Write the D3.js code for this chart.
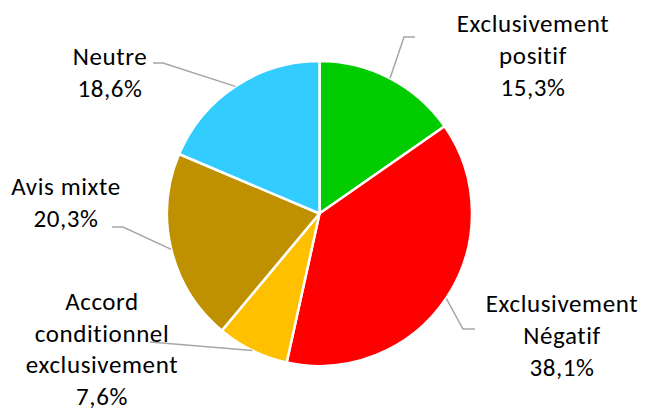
<!DOCTYPE html>
<html>
<head>
<meta charset="utf-8">
<script src="https://cdn.jsdelivr.net/npm/d3@7"></script>
<style>
  html, body { margin: 0; padding: 0; background: #fff; }
  svg { display: block; }
  text { font-family: Carlito, Calibri, Lato, "Open Sans", sans-serif; fill: #000; }
</style>
</head>
<body>
<svg id="chart" width="647" height="412"></svg>
<script>
// Opinion categories, clockwise from 12 o'clock
const categories = [
  "Exclusivement positif",
  "Exclusivement Négatif",
  "Accord conditionnel exclusivement",
  "Avis mixte",
  "Neutre"
];
const values = [15.3, 38.1, 7.6, 20.3, 18.6];
const labelLines = [
  ["Exclusivement", "positif", "15,3%"],
  ["Exclusivement", "Négatif", "38,1%"],
  ["Accord", "conditionnel", "exclusivement", "7,6%"],
  ["Avis mixte", "20,3%"],
  ["Neutre", "18,6%"]
];
const colors = ["#00CC00", "#FF0000", "#FFC000", "#BF9000", "#33CCFF"];

// Label placement: text centre x, first baseline y, line spacing, leader line elbow points
const labelLayout = [
  { x: 533, y: 32, dy: 32, elbow: [[404, 37], [415, 37]] },
  { x: 562, y: 312, dy: 32, elbow: [[463, 329], [475, 329]] },
  { x: 102, y: 310, dy: 31.5, elbow: [[150, 342]] },
  { x: 66, y: 195, dy: 32, elbow: [[123, 227], [112, 227]] },
  { x: 110, y: 65, dy: 32, elbow: [[163, 63], [153, 63]] }
];

const svg = d3.select("#chart");
const cx = 319.5, cy = 213.5, radius = 152.5;

const pie = d3.pie().sort(null).value(d => d);
const arcs = pie(values);
const arc = d3.arc().innerRadius(0).outerRadius(radius);

const g = svg.append("g").attr("transform", `translate(${cx},${cy})`);

g.selectAll("path.slice")
  .data(arcs)
  .join("path")
  .attr("class", "slice")
  .attr("d", arc)
  .attr("fill", (d, i) => colors[i])
  .attr("stroke", "#fff")
  .attr("stroke-width", 2.5)
  .attr("stroke-linejoin", "round");

// Leader lines from each slice's mid-angle on the rim to its label
const leaders = svg.append("g");
arcs.forEach((a, i) => {
  const mid = (a.startAngle + a.endAngle) / 2;
  const start = [cx + radius * Math.sin(mid), cy - radius * Math.cos(mid)];
  const pts = [start, ...labelLayout[i].elbow];
  leaders.append("path")
    .attr("d", d3.line()(pts))
    .attr("fill", "none")
    .attr("stroke", "#A6A6A6")
    .attr("stroke-width", 1.5);
});

// Labels
const labels = svg.append("g");
labelLines.forEach((lines, i) => {
  const L = labelLayout[i];
  const t = labels.append("text")
    .attr("text-anchor", "middle")
    .attr("font-size", 25)
    .attr("letter-spacing", 0.6);
  lines.forEach((ln, k) => {
    t.append("tspan")
      .attr("x", L.x)
      .attr("y", L.y + k * L.dy)
      .text(ln);
  });
});
</script>
</body>
</html>
